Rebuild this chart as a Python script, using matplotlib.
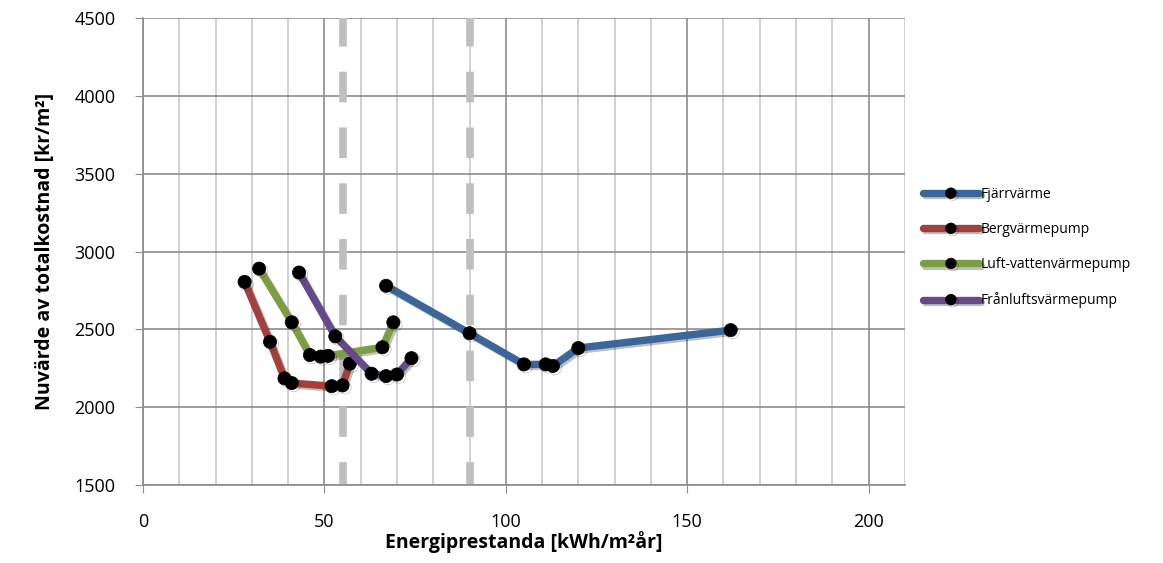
import matplotlib.pyplot as plt
import matplotlib.patheffects as pe
from matplotlib.ticker import MultipleLocator

# energy performance [kWh/m2 year] and net present value [kr/m2] per system
fjarr_x = [67, 90, 105, 111, 113, 120, 162]
fjarr_y = [2780, 2475, 2275, 2275, 2265, 2380, 2495]
berg_x = [28, 35, 39, 41, 52, 55, 57]
berg_y = [2805, 2420, 2185, 2155, 2135, 2140, 2280]
luft_x = [32, 41, 46, 49, 51, 66, 69]
luft_y = [2890, 2545, 2335, 2325, 2330, 2385, 2545]
franluft_x = [43, 53, 63, 67, 70, 74]
franluft_y = [2865, 2455, 2215, 2200, 2210, 2315]

labels = ["Fjärrvärme", "Bergvärmepump", "Luft-vattenvärmepump", "Frånluftsvärmepump"]
colors = ["#3A6699", "#A33F3C", "#7D9D42", "#644A8A"]
limits = [55, 90]

plt.rcParams['font.family'] = ['Open Sans', 'DejaVu Sans']

fig = plt.figure(figsize=(11.63, 5.63), dpi=100)
ax = fig.add_axes([0.123, 0.1385, 0.655, 0.8295])

# requirement limits as dashed verticals
for lim in limits:
    ax.axvline(lim, color="#BFBFBF", lw=5.5, ls=(1, (4, 3.3)), zorder=1)

series = [(fjarr_x, fjarr_y), (berg_x, berg_y), (luft_x, luft_y), (franluft_x, franluft_y)]
shadow = [pe.SimpleLineShadow(offset=(1.5, -1.5), alpha=0.25), pe.Normal()]
for (x, y), lab, col in zip(series, labels, colors):
    ax.plot(x, y, color=col, lw=5.3, marker="o", ms=9.5, mfc="black", mec="black",
            mew=0.5, label=lab, zorder=3, path_effects=shadow,
            solid_capstyle="round")

ax.set_xlim(0, 210)
ax.set_ylim(1500, 4500)
ax.xaxis.set_major_locator(MultipleLocator(50))
ax.xaxis.set_minor_locator(MultipleLocator(10))
ax.yaxis.set_major_locator(MultipleLocator(500))

ax.grid(True, which="major", color="#8C8C8C", lw=1.2, zorder=0)
ax.grid(True, which="minor", axis="x", color="#C8C8C8", lw=1.2, zorder=0)
ax.set_axisbelow(True)

for side in ["top", "right"]:
    ax.spines[side].set_visible(False)
for side in ["left", "bottom"]:
    ax.spines[side].set_color("#8C8C8C")
    ax.spines[side].set_linewidth(1.2)

ax.tick_params(axis="both", which="major", length=6, color="#8C8C8C", labelsize=13)
ax.tick_params(axis="y", which="major", pad=14)
ax.tick_params(axis="x", which="major", pad=14)
ax.tick_params(axis="x", which="minor", length=0)

ax.set_xlabel("Energiprestanda [kWh/m²år]", fontsize=14, fontweight="bold", labelpad=0)
ax.set_ylabel("Nuvärde av totalkostnad [kr/m²]", fontsize=14, fontweight="bold", labelpad=14)

fig.legend(loc="center left", bbox_to_anchor=(0.783, 0.56), frameon=False,
           fontsize=10, handlelength=4, labelspacing=1.45, handletextpad=0.15,
           markerscale=0.8)

fig.savefig("out.png", dpi=100)
